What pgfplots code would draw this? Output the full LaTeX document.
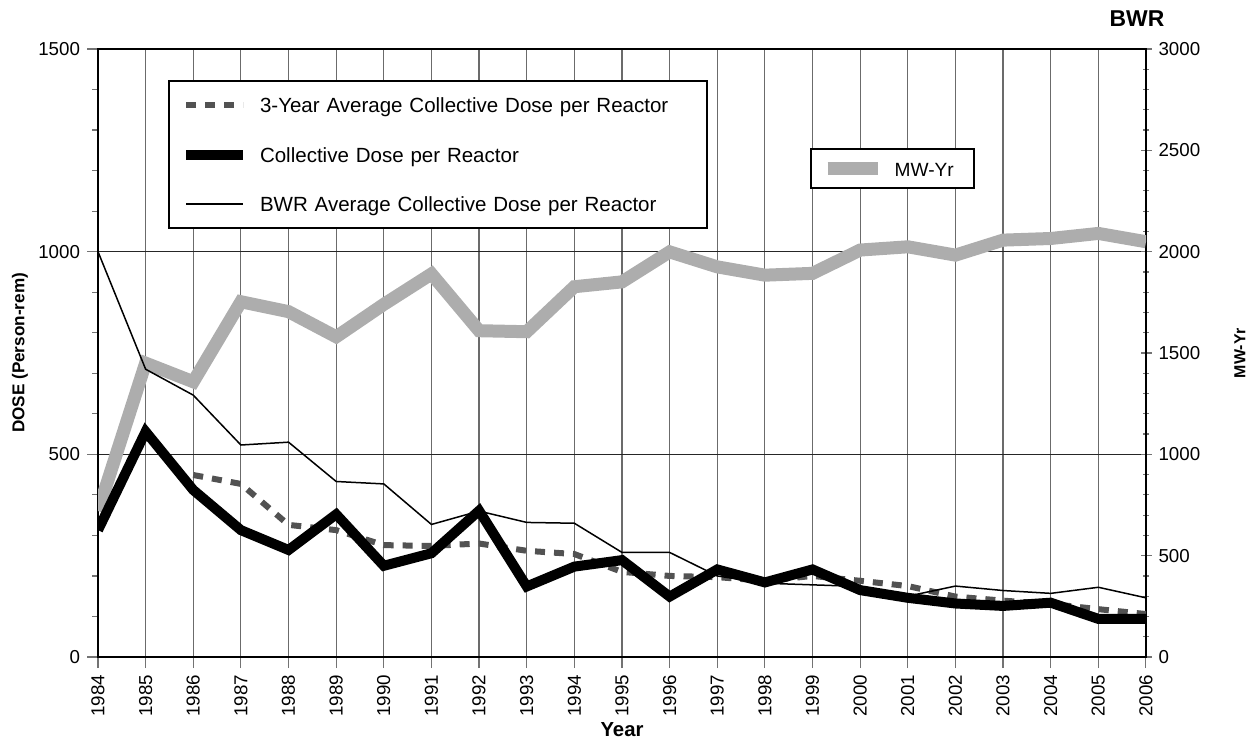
\documentclass[border=0pt]{standalone}
\usepackage{fontspec}
\setmainfont{Liberation Sans}
\usepackage{pgfplots}
\usepackage{pgfplotstable}
\pgfplotsset{compat=1.18}

% year, collective dose, 3-year average, BWR average, MW-Yr
\pgfplotstableread{
year dose avg3 bwr  mwyr
1984 313  nan  1000 720
1985 556  nan  710  1450
1986 412  449  646  1358
1987 313  427  523  1753
1988 264  326  530  1704
1989 352  313  433  1580
1990 225  276  427  1740
1991 256  274  327  1890
1992 361  280  360  1610
1993 174  262  332  1605
1994 223  254  330  1827
1995 239  210  258  1851
1996 149  200  258  1999
1997 216  197  200  1925
1998 184  188  182  1884
1999 216  200  178  1893
2000 165  188  174  2008
2001 146  175  150  2024
2002 132  149  175  1983
2003 126  139  164  2057
2004 134  131  157  2065
2005 94   118  172  2090
2006 94   106  146  2049
}\data

\pgfplotsset{
  base/.style={
    at={(0,0)}, anchor=south west,
    scale only axis, width=524bp, height=304bp,
    xmin=1984, xmax=2006,
    set layers,
    /pgf/number format/1000 sep={},
    /pgf/number format/assume math mode=true,
    tick align=outside,
    major tick length=5.5bp, minor tick length=3bp,
    tick style={black!55, line width=0.6bp},
    axis line style={line width=1bp},
    ticklabel style={font=\fontsize{9.4}{10}\selectfont},
    legend cell align=left,
  },
}

\begin{document}
\begin{tikzpicture}
% MW-Yr on the right-hand axis, drawn first so it lies beneath the dose lines
\begin{axis}[base,
  axis x line=none, axis y line=right,
  y axis line style={-},
  ymin=0, ymax=3000, ytick={0,500,...,3000}, minor y tick num=4,
  ylabel={MW-Yr},
  ylabel style={font=\bfseries\fontsize{8}{9}\selectfont, at={(rel axis cs:1,0.5)}, anchor=center, yshift=-47bp},
  title={BWR},
  title style={font=\bfseries\fontsize{11.5}{12}\selectfont, at={(rel axis cs:0.9914,1)}, anchor=center, yshift=9.27bp},
  legend style={at={(rel axis cs:0.6794,0.837)}, anchor=north west,
    draw=black, line width=1bp, fill=white,
    inner xsep=5bp, inner ysep=5.25bp, column sep=5bp,
    font=\fontsize{9.6}{11}\selectfont,
    nodes={inner sep=0pt, text height=8.4bp, text depth=0.6bp, text width=34.7bp, align=left}},
  legend image code/.code={\draw[#1] (0bp,0bp) -- (25.3bp,0bp);},
]
\addplot[black!32, line width=6.5bp] table[x=year, y=mwyr] {\data};
\addlegendentry{MW-Yr}
\end{axis}

% dose per reactor on the left-hand axis
\begin{axis}[base,
  ymin=0, ymax=1500, ytick={0,500,1000,1500}, minor y tick num=4,
  xtick={1984,...,2006}, tick pos=left,
  xmajorgrids, ymajorgrids,
  major x grid style={black!58, line width=0.6bp},
  major y grid style={black!85, line width=0.6bp},
  xticklabel style={rotate=90, anchor=east},
  xlabel={Year},
  xlabel style={font=\bfseries\fontsize{10.2}{11}\selectfont, at={(rel axis cs:0.5,0)}, anchor=center, yshift=-36.5bp},
  ylabel={DOSE (Person-rem)},
  ylabel style={font=\bfseries\fontsize{8.6}{9}\selectfont, at={(rel axis cs:0,0.5)}, anchor=center, yshift=39bp},
  legend style={at={(rel axis cs:0.0668,0.949)}, anchor=north west,
    draw=black, line width=1bp, fill=white,
    inner xsep=6bp, inner ysep=7.5bp, row sep=15.75bp, column sep=6bp,
    font=\fontsize{10.3}{12}\selectfont,
    nodes={inner sep=0pt, text height=8.4bp, text depth=0.6bp, text width=217.5bp, align=left}},
  legend image code/.code={\draw[#1] (0bp,0bp) -- (28.5bp,0bp);},
]
\addplot[black!68, line width=3bp, dash pattern=on 5bp off 4.5bp] table[x=year, y=avg3] {\data};
\addlegendentry{3-Year Average Collective Dose per Reactor}
\addplot[black, line width=5bp] table[x=year, y=dose] {\data};
\addlegendentry{Collective Dose per Reactor}
\addplot[black, line width=0.75bp] table[x=year, y=bwr] {\data};
\addlegendentry{BWR Average Collective Dose per Reactor}
\end{axis}
\pgfresetboundingbox
\path[use as bounding box] (-49bp,-43bp) rectangle (576.5bp,328.5bp);
\end{tikzpicture}
\end{document}
